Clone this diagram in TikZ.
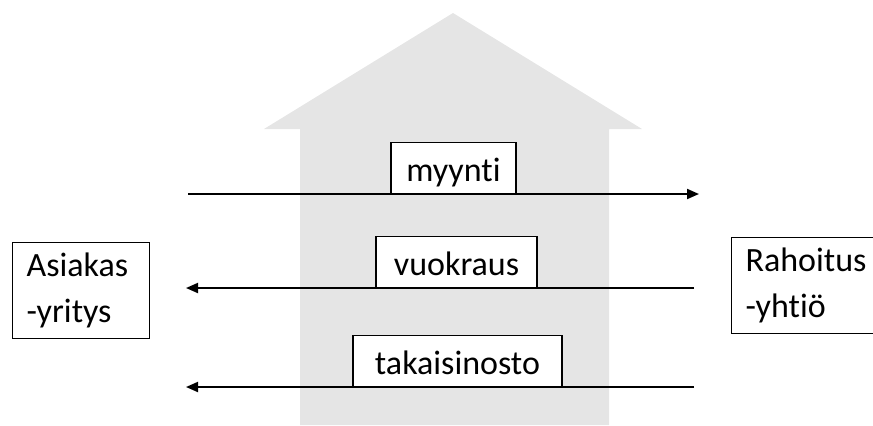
\documentclass[tikz,border=0pt]{standalone}
\usepackage{fontspec}
\setmainfont{Carlito}[RawFeature=-liga]
\usetikzlibrary{arrows.meta}

\begin{document}
\begin{tikzpicture}[x=0.5pt,y=-0.5pt,font=\fontsize{17}{23}\selectfont,
  yritys/.style={draw,line width=0.6pt,anchor=north west,align=left,inner xsep=7pt,minimum height=48pt},
  tapahtuma/.style={draw,line width=0.6pt,fill=white,anchor=south,inner ysep=0pt,text height=19.5pt,text depth=6pt},
  nuoli/.style={line width=1pt,-{Triangle[length=6pt,width=5pt]}}]
\useasboundingbox (0,0) rectangle (873,425);
\clip (0,0) rectangle (873,425);
\fill[black!10] (300,425) -- ++(0,-296) -- ++(-36,0) -- ++(189,-116) -- ++(189,116) -- ++(-33,0) -- ++(0,296) -- cycle;
\node[yritys,text width=54.5pt] (asiakas) at (12,242) {Asiakas\\-yritys};
\node[yritys,text width=62pt] (rahoitus) at (731,237) {Rahoitus\\-yhtiö};
\coordinate (m1) at (188,194);
\coordinate (m2) at (699,194);
\coordinate (v1) at (694,288);
\coordinate (v2) at (186,288);
\coordinate (t1) at (694,387);
\coordinate (t2) at (186,387);
\draw[nuoli] (m1) -- (m2);
\draw[nuoli] (v1) -- (v2);
\draw[nuoli] (t1) -- (t2);
\node[tapahtuma,minimum width=62.5pt] (myynti) at (453.5,194) {myynti};
\node[tapahtuma,minimum width=80.5pt] (vuokraus) at (456.5,288) {vuokraus};
\node[tapahtuma,minimum width=104.5pt] (takaisinosto) at (457.5,387) {takaisinosto};
\end{tikzpicture}
\end{document}
